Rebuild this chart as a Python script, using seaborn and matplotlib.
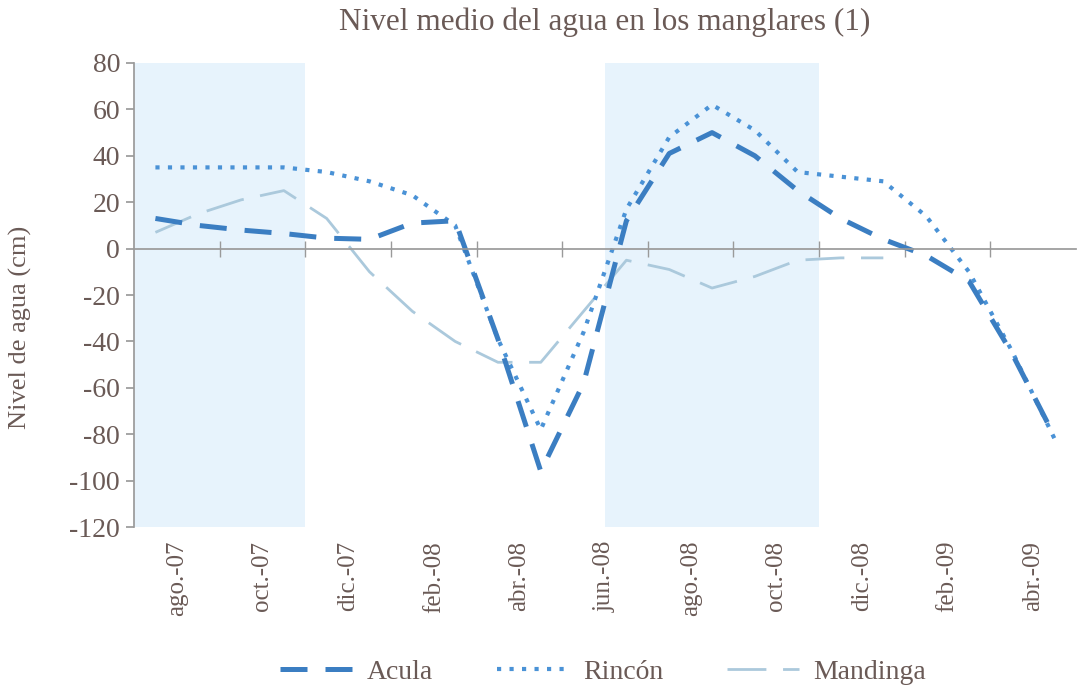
import matplotlib
matplotlib.use('Agg')

import numpy as np
import pandas as pd
import matplotlib.pyplot as plt
import seaborn as sns

# Meses (ago.-07 a may.-09), un valor por mes
meses = ['ago.-07', 'sep.-07', 'oct.-07', 'nov.-07', 'dic.-07', 'ene.-08',
         'feb.-08', 'mar.-08', 'abr.-08', 'may.-08', 'jun.-08', 'jul.-08',
         'ago.-08', 'sep.-08', 'oct.-08', 'nov.-08', 'dic.-08', 'ene.-09',
         'feb.-09', 'mar.-09', 'abr.-09', 'may.-09']

acula = [13, 10, 8, 6.5, 4.5, 4, 11, 12, -39, -96, -58, 12,
         41, 50, 40, 25, 13, 4, -3, -14, -45, -81]
rincon = [35, 35, 35, 35, 33, 29, 23, 10, -39, -78, -36, 17,
          48, 62, 51, 33, 31, 29, 14, -10, -44, -82]
mandinga = [7, 15, 21, 25, 13, -10, -27, -40, -49, -49, -27, -5,
            -9, -17, -12, -5, -4, -4, np.nan, np.nan, np.nan, np.nan]

# etiquetas cada dos meses
etiquetas = ['ago.-07', 'oct.-07', 'dic.-07', 'feb.-08', 'abr.-08', 'jun.-08',
             'ago.-08', 'oct.-08', 'dic.-08', 'feb.-09', 'abr.-09']

# periodos sombreados (indices de mes, inicio y fin)
lluvias = [(0, 3), (11, 15)]

texto = '#6a5a56'
gris = '#9a9a9a'

sns.set_theme(style='white')
plt.rcParams['font.family'] = ['Liberation Serif', 'DejaVu Serif']
plt.rcParams['axes.unicode_minus'] = False

idx = np.arange(len(meses))
df = pd.DataFrame({'mes': idx, 'Acula': acula, 'Rincón': rincon, 'Mandinga': mandinga})

fig = plt.figure(figsize=(10.77, 6.9), dpi=100)
ax = fig.add_axes([134 / 1077, 0.2362, 942 / 1077, 0.6725])

for a, b in lluvias:
    ax.axvspan(a - 0.5, b + 0.5, color='#e7f3fc', lw=0, zorder=0)

sns.lineplot(data=df, x='mes', y='Mandinga', ax=ax, color='#abc9dc',
             linewidth=2.0, label='Mandinga')
ax.lines[-1].set_dashes((14, 6))
sns.lineplot(data=df, x='mes', y='Rincón', ax=ax, color='#4a92d6',
             linewidth=3, label='Rincón')
ax.lines[-1].set_dashes((1, 2))
sns.lineplot(data=df, x='mes', y='Acula', ax=ax, color='#3b7ec2',
             linewidth=3.6, label='Acula')
ax.lines[-1].set_dashes((5.4, 3.6))

ax.set_xlim(-0.5, len(meses) - 0.5)
ax.set_ylim(-120, 80)
ax.set_yticks(np.arange(-120, 81, 20))
ax.set_xlabel('')
ax.set_ylabel('Nivel de agua (cm)', fontsize=19, color=texto)
ax.yaxis.set_label_coords(-0.108, 0.431)

for s in ['top', 'right']:
    ax.spines[s].set_visible(False)
ax.spines['left'].set_color(gris)
ax.spines['bottom'].set_color(gris)
ax.spines['bottom'].set_position(('data', 0))

ax.set_xticks([])
ax.set_xticks(np.arange(1.5, len(meses) - 1, 2), minor=True)
ax.tick_params(axis='x', which='minor', direction='inout', length=12,
               color=gris, labelbottom=False, bottom=True)
ax.tick_params(axis='y', direction='out', length=6, color=gris, left=True,
               labelsize=20, labelcolor=texto, pad=4)

sec = ax.secondary_xaxis('bottom')
sec.set_xticks(np.arange(0.5, len(meses), 2), labels=etiquetas, rotation=90)
sec.tick_params(length=0, pad=10, labelsize=18, labelcolor=texto)
sec.spines['bottom'].set_visible(False)

fig.text(0.561, 1 - 22 / 690, 'Nivel medio del agua en los manglares (1)',
         ha='center', va='center', fontsize=22.5, color=texto)

handles, labels = ax.get_legend_handles_labels()
orden = [labels.index(n) for n in ['Acula', 'Rincón', 'Mandinga']]
ax.get_legend().remove()
fig.legend([handles[i] for i in orden], [labels[i] for i in orden],
           loc='center', bbox_to_anchor=(0.56, 1 - 672 / 690), ncol=3,
           frameon=False, fontsize=20, labelcolor=texto, handlelength=2.6,
           columnspacing=2.3, handletextpad=0.5)

fig.savefig('out.png', dpi=100)
